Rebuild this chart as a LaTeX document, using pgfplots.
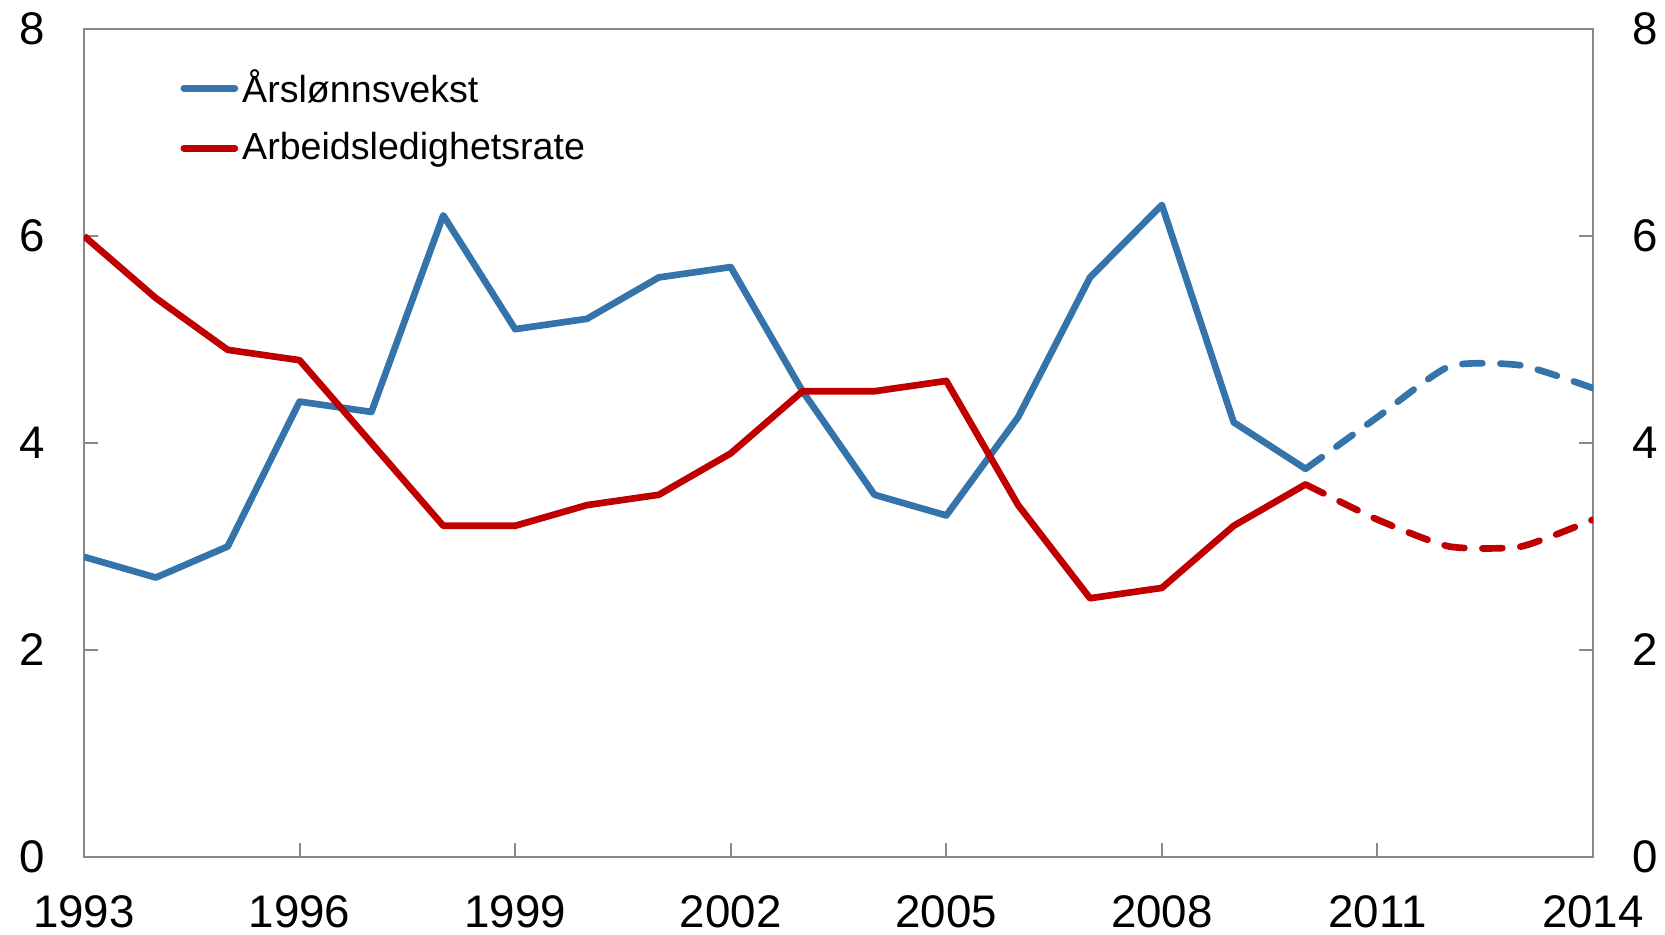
\documentclass[border=0pt]{standalone}
\usepackage{fontspec}
\setmainfont{Liberation Sans}
\usepackage{pgfplots}
\pgfplotsset{compat=1.18}
\definecolor{lblue}{RGB}{52,116,170}
\definecolor{lred}{RGB}{192,0,0}
\definecolor{axgray}{RGB}{137,137,137}
\begin{document}
\begin{tikzpicture}
\useasboundingbox (-8.4mm,-7.8mm) rectangle (158.1mm,85.7mm);
\begin{axis}[
  at={(0,0)}, anchor=south west,
  scale only axis, width=150.9mm, height=82.8mm,
  xmin=1993, xmax=2014, ymin=0, ymax=8,
  xtick={1993,1996,1999,2002,2005,2008,2011,2014},
  ytick={0,2,4,6,8},
  xticklabel style={/pgf/number format/1000 sep={}, yshift=-2.6mm},
  yticklabel style={xshift=-2.7mm},
  /pgf/number format/assume math mode=true,
  tick label style={font=\fontsize{13}{15}\selectfont},
  xtick pos=bottom, ytick pos=both,
  tick align=inside, major tick length=1.4mm,
  axis line style={axgray, line width=0.6pt},
  every tick/.style={axgray, line width=0.6pt},
  legend style={at={(rel axis cs:0.0635,0.957)}, anchor=north west, draw=none, fill=none,
    font=\fontsize{10.7}{12}\selectfont, row sep=1.65mm, inner sep=0pt,
    nodes={inner sep=0.4mm},
    legend cell align=left},
  legend image code/.code={\draw[#1, line cap=round] (0mm,0mm) -- (5.1mm,0mm);},
  every axis plot/.append style={line width=1.9pt, line join=round},
]
\addplot[lblue] coordinates {
(1993,2.9)(1994,2.7)(1995,3.0)(1996,4.4)(1997,4.3)(1998,6.2)(1999,5.1)(2000,5.2)
(2001,5.6)(2002,5.7)(2003,4.5)(2004,3.5)(2005,3.3)(2006,4.25)(2007,5.6)(2008,6.3)
(2009,4.2)(2010,3.75)};
\addlegendentry{Årslønnsvekst}
\addplot[lred] coordinates {
(1993,6.0)(1994,5.4)(1995,4.9)(1996,4.8)(1997,4.0)(1998,3.2)(1999,3.2)(2000,3.4)
(2001,3.5)(2002,3.9)(2003,4.5)(2004,4.5)(2005,4.6)(2006,3.4)(2007,2.5)(2008,2.6)
(2009,3.2)(2010,3.6)};
\addlegendentry{Arbeidsledighetsrate}
\addplot[lblue, smooth, tension=0.35, dash pattern=on 2mm off 1.8mm, line cap=round, forget plot] coordinates {
(2010,3.75)(2011,4.25)(2012,4.74)(2013,4.75)(2014,4.53)};
\addplot[lred, smooth, tension=0.35, dash pattern=on 2mm off 1.8mm, line cap=round, forget plot] coordinates {
(2010,3.6)(2011,3.26)(2012,3.0)(2013,3.0)(2014,3.26)};
\end{axis}
\begin{axis}[
  at={(0,0)}, anchor=south west,
  scale only axis, width=150.9mm, height=82.8mm,
  xmin=1993, xmax=2014, ymin=0, ymax=8,
  hide x axis, axis y line*=right,
  ytick={0,2,4,6,8},
  yticklabel style={xshift=2.7mm},
  /pgf/number format/assume math mode=true,
  tick label style={font=\fontsize{13}{15}\selectfont},
  axis line style={draw=none},
  every tick/.style={draw=none},
]
\end{axis}
\end{tikzpicture}
\end{document}
